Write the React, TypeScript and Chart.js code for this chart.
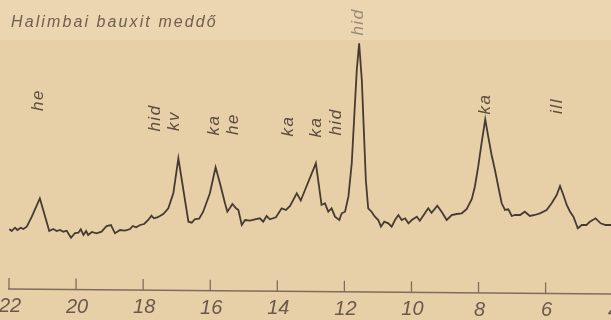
import React, { useEffect, useRef } from "react";
import { Chart, registerables } from "chart.js";

Chart.register(...registerables);

// 2θ angle (degrees) of each trace point
const angles = [
  21.99, 21.92, 21.82, 21.75, 21.65, 21.57, 21.47, 21.32, 21.08, 20.98,
  20.8, 20.68, 20.58, 20.48, 20.38, 20.28, 20.15, 20.03, 19.93, 19.86,
  19.78, 19.7, 19.64, 19.53, 19.39, 19.24, 19.09, 18.96, 18.84, 18.69,
  18.54, 18.39, 18.31, 18.21, 18.09, 17.97, 17.85, 17.75, 17.68, 17.58,
  17.5, 17.4, 17.25, 17.1, 16.95, 16.65, 16.55, 16.45, 16.33, 16.21,
  16.01, 15.84, 15.71, 15.56, 15.49, 15.41, 15.34, 15.23, 15.16, 15.06,
  14.96, 14.81, 14.67, 14.52, 14.42, 14.32, 14.22, 14.04, 13.87, 13.74,
  13.62, 13.42, 13.3, 13.15, 12.85, 12.68, 12.58, 12.48, 12.38, 12.28,
  12.15, 12.08, 11.98, 11.88, 11.78, 11.7, 11.63, 11.56, 11.48, 11.42,
  11.36, 11.29, 11.19, 11.09, 10.99, 10.91, 10.81, 10.69, 10.59, 10.49,
  10.39, 10.29, 10.19, 10.09, 9.99, 9.84, 9.75, 9.6, 9.5, 9.4,
  9.23, 9.1, 8.95, 8.8, 8.65, 8.5, 8.35, 8.2, 8.11, 8.01,
  7.91, 7.8, 7.71, 7.61, 7.51, 7.41, 7.31, 7.21, 7.11, 7.01,
  6.91, 6.76, 6.62, 6.47, 6.32, 6.17, 5.97, 5.82, 5.67, 5.57,
  5.47, 5.37, 5.27, 5.17, 5.04, 4.92, 4.78, 4.68, 4.51, 4.36,
  4.21, 4.03,
];

// relative intensity of each trace point
const intensity = [
  61, 59, 62.3, 60, 62.3, 61, 63.3, 73.3, 91.7, 80,
  59, 61, 59, 60, 58.3, 59.3, 52.3, 57, 57.3, 60.7,
  55, 59, 55, 58, 56.7, 58.3, 64, 65, 56.7, 60,
  59.3, 61, 64, 62.7, 65, 66, 70, 74.3, 71.7, 72.7,
  74, 76, 81.7, 96.7, 131.7, 68.3, 67.3, 71, 71.3, 78.3,
  96.7, 122.7, 106.7, 86.7, 78.3, 82.3, 86, 81.7, 80, 65,
  70, 69.3, 70.7, 71.7, 68.3, 74, 70.7, 72.7, 81.7, 80,
  84, 96.7, 89.5, 102, 126.7, 85, 86.7, 78.3, 81.7, 73.3,
  70, 76.7, 78.3, 93.3, 126.7, 176.7, 220, 246.7, 210, 160,
  110, 81.7, 78.3, 73.3, 70, 63.3, 68.3, 66.7, 63.3, 70,
  75, 70, 71.7, 66.7, 70, 73.3, 69.3, 76.7, 81.7, 77.3,
  84.3, 78.3, 70, 75, 76, 76.7, 81, 91, 103.3, 123.3,
  146.7, 170.7, 153.3, 135, 120, 103.3, 86.7, 80, 80.7, 74,
  75, 75, 78.3, 74, 75, 76.7, 80, 86.7, 95, 104,
  95, 85, 78.3, 73.3, 61.7, 65, 65, 68.3, 71.7, 66.7,
  65, 65,
];

// axis tick labels
const tickValues = [22, 20, 18, 16, 14, 12, 10, 8, 6, 4];

// mineral labels above the peaks (angle, intensity of label centre)
const peakLabels = ["he", "hid", "kv", "ka", "he", "ka", "ka", "hid", "hid", "ka", "ill"];
const peakLabelAngle = [21.14, 17.65, 17.08, 15.89, 15.32, 13.68, 12.85, 12.25, 11.59, 7.81, 5.66];
const peakLabelLevel = [190, 172, 169, 165, 166, 164, 163, 168, 268, 186, 184];

const chartTitle = "Halimbai bauxit meddő";

const decorPlugin = {
  id: "decor",
  beforeDraw(chart: any) {
    const { ctx, width, height } = chart;
    ctx.save();
    ctx.fillStyle = "#e7d0a7";
    ctx.fillRect(0, 0, width, height);
    ctx.fillStyle = "rgba(244,230,202,0.3)";
    ctx.fillRect(0, 0, width, 40);
    ctx.restore();
  },
  afterDatasetsDraw(chart: any) {
    const { ctx, width, chartArea } = chart;
    const xs = chart.scales.x;
    const ys = chart.scales.y;
    const left = chartArea.left;
    const right = chartArea.right;
    const base = (px: number) => chartArea.bottom - 1 + ((px - left) * 5) / (right - left);
    ctx.save();
    // axis line
    ctx.strokeStyle = "#806c5a";
    ctx.lineWidth = 1.3;
    ctx.beginPath();
    ctx.moveTo(left - 1, base(left - 1));
    ctx.lineTo(width, base(width));
    ctx.stroke();
    // ticks and labels
    ctx.fillStyle = "#6a5848";
    ctx.font = "italic 20px 'Liberation Sans Narrow', 'Liberation Sans', sans-serif";
    ctx.textAlign = "center";
    ctx.textBaseline = "alphabetic";
    tickValues.forEach((v) => {
      const px = xs.getPixelForValue(v);
      const b = base(px);
      ctx.beginPath();
      ctx.moveTo(px, b - 11);
      ctx.lineTo(px, b);
      ctx.stroke();
      ctx.fillText(String(v), px + 1, b + 23);
    });
    // title
    ctx.textAlign = "left";
    ctx.fillStyle = "#6e5e4e";
    ctx.font = "italic 16px 'Liberation Sans', sans-serif";
    (ctx as any).letterSpacing = "2.1px";
    ctx.fillText(chartTitle, 11, 27);
    // peak labels
    ctx.fillStyle = "#5c4c40";
    ctx.font = "italic 17px 'Liberation Sans', sans-serif";
    (ctx as any).letterSpacing = "1.5px";
    ctx.textAlign = "center";
    ctx.textBaseline = "middle";
    peakLabels.forEach((t, i) => {
      const px = xs.getPixelForValue(peakLabelAngle[i]);
      const py = ys.getPixelForValue(peakLabelLevel[i]);
      ctx.save();
      ctx.translate(px, py);
      ctx.rotate(-Math.PI / 2);
      if (i === 8) ctx.fillStyle = "#9a8a78";
      ctx.fillText(t, 0, 0);
      ctx.restore();
    });
    ctx.restore();
  },
};

export default function App() {
  const ref = useRef<HTMLCanvasElement | null>(null);
  useEffect(() => {
    if (!ref.current) return;
    const chart = new Chart(ref.current, {
      type: "line",
      data: {
        datasets: [
          {
            data: angles.map((a, i) => ({ x: a, y: intensity[i] })),
            borderColor: "#463a33",
            borderWidth: 1.8,
            pointRadius: 0,
            tension: 0,
            fill: false,
          },
        ],
      },
      options: {
        animation: false,
        responsive: false,
        maintainAspectRatio: false,
        layout: { padding: { left: 9, right: 0, top: 10, bottom: 30 } },
        plugins: {
          legend: { display: false },
          tooltip: { enabled: false },
          title: { display: false },
        },
        scales: {
          x: { type: "linear", reverse: true, min: 4.05, max: 22, display: false },
          y: { type: "linear", min: 0, max: 280, display: false },
        },
      },
      plugins: [decorPlugin],
    } as any);
    return () => chart.destroy();
  }, []);
  return (
    <div style={{ position: "absolute", left: 0, top: 0, width: 611, height: 320 }}>
      <canvas ref={ref} width={611} height={320} style={{ display: "block" }} />
    </div>
  );
}
